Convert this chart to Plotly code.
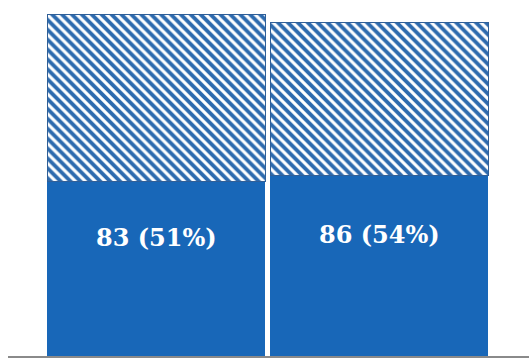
import plotly.graph_objects as go

categories = ["A", "B"]
solid_values = [83, 86]
solid_labels = ["83 (51%)", "86 (54%)"]
hatched_values = [80, 73]

fig = go.Figure()
fig.add_trace(go.Bar(
    x=categories, y=solid_values,
    marker=dict(color="#1867b8", line=dict(width=0)),
    width=0.978, hoverinfo="skip",
))
fig.add_trace(go.Bar(
    x=categories, y=hatched_values,
    marker=dict(color="white",
                line=dict(color="#2f5f98", width=1),
                pattern=dict(shape="\\", fgcolor="#2d6aae", bgcolor="white",
                             fgopacity=1, size=7, solidity=0.55)),
    width=0.978, hoverinfo="skip",
))

for c, v, t in zip(categories, solid_values, solid_labels):
    fig.add_annotation(x=c, y=v / 2, text=f"<b>{t}</b>", showarrow=False,
                       yanchor="middle", yshift=31,
                       font=dict(family="DejaVu Serif", size=24, color="white"))

fig.update_layout(
    barmode="stack", bargap=0.022, showlegend=False,
    width=529, height=358,
    margin=dict(l=8, r=0, t=0, b=2),
    paper_bgcolor="white", plot_bgcolor="white",
    xaxis=dict(range=[-0.664, 1.672], showticklabels=False, showgrid=False,
               showline=True, linecolor="#8a8a8a", linewidth=2, zeroline=False),
    yaxis=dict(range=[0, 169.7], visible=False),
)
fig.write_html("out.html")
